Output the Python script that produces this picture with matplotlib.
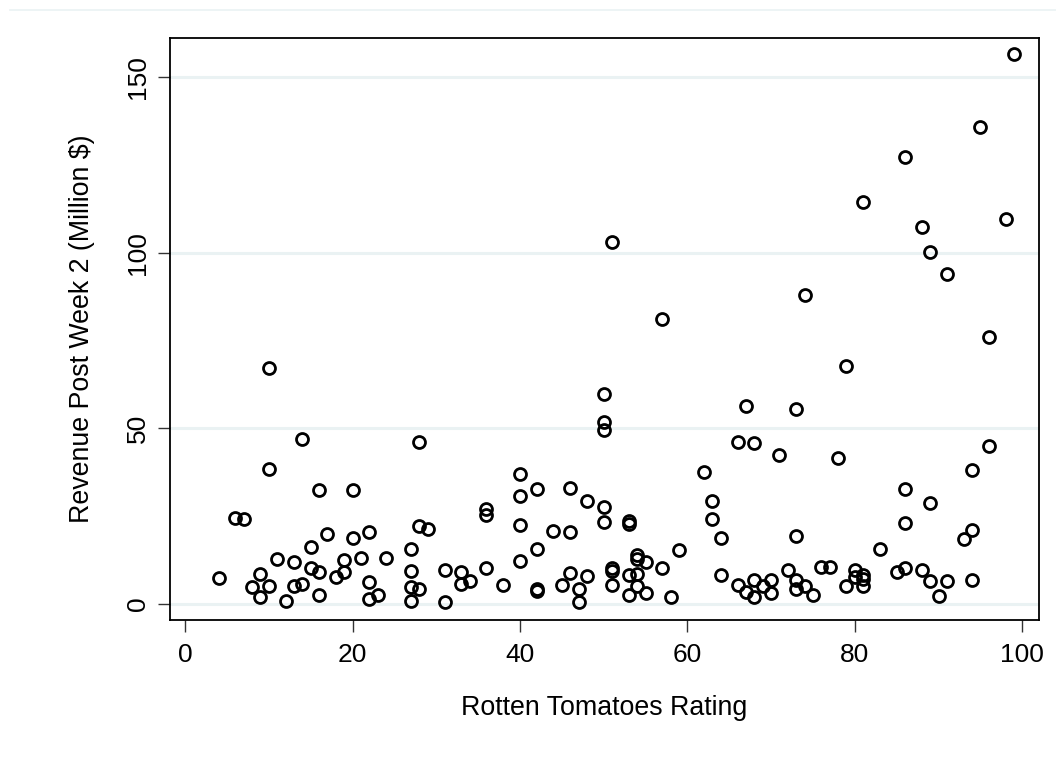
import numpy as np
import matplotlib
matplotlib.use("Agg")
import matplotlib.pyplot as plt
from matplotlib.lines import Line2D

plt.rcParams['font.family'] = ['Liberation Sans', 'DejaVu Sans']

# Rotten Tomatoes rating vs revenue after week 2 (million $)
rating = [4, 6, 7, 8, 9, 9, 10, 10, 10, 11, 12, 13, 13, 14, 14, 15, 15,
          16, 16, 16, 17, 18, 19, 19, 20, 20, 21, 22, 22, 22, 23, 24,
          27, 27, 27, 27, 28, 28, 28, 29, 31, 31, 33, 33, 34,
          36, 36, 36, 38, 40, 40, 40, 40, 42, 42, 42, 42, 44, 45,
          46, 46, 46, 47, 47, 48, 48, 50, 50, 50, 50, 50,
          51, 51, 51, 51, 53, 53, 53, 53, 54, 54, 54, 54, 55, 55,
          57, 57, 58, 59, 62, 63, 63, 64, 64, 66, 66, 67, 67,
          68, 68, 68, 69, 70, 70, 71, 72, 73, 73, 73, 73, 74, 74, 75,
          76, 77, 78, 79, 79, 80, 80, 81, 81, 81, 81, 83, 85,
          86, 86, 86, 86, 88, 88, 89, 89, 89, 90, 91, 91, 93,
          94, 94, 94, 95, 96, 96, 98, 99]
revenue = [7.4, 24.5, 24.3, 4.9, 8.5, 1.9, 67.2, 38.5, 5.0, 12.7, 0.9, 11.8, 5.0, 47.0, 5.7, 16.3, 10.2,
           32.3, 9.1, 2.5, 19.8, 7.6, 12.6, 9.1, 32.3, 18.8, 13.0, 20.5, 6.1, 1.5, 2.5, 13.0,
           15.7, 9.5, 4.7, 0.9, 46.2, 22.1, 4.2, 21.4, 9.7, 0.4, 9.0, 5.7, 6.4,
           27.0, 25.2, 10.2, 5.4, 37.1, 30.8, 22.4, 12.2, 32.7, 15.7, 4.1, 3.8, 20.7, 5.4,
           32.9, 20.6, 8.8, 4.3, 0.4, 29.2, 7.8, 59.8, 51.8, 49.4, 27.5, 23.4,
           103.2, 10.2, 9.5, 5.4, 23.6, 22.7, 8.1, 2.4, 13.9, 12.8, 8.6, 5.0, 12.0, 3.1,
           81.2, 10.2, 2.0, 15.2, 37.7, 29.4, 24.2, 18.8, 8.3, 46.0, 5.4, 56.5, 3.5,
           45.7, 6.9, 1.9, 5.2, 6.9, 3.1, 42.5, 9.6, 55.4, 19.4, 6.7, 4.3, 88.1, 5.0, 2.4,
           10.5, 10.4, 41.6, 67.7, 5.0, 9.7, 7.6, 114.4, 8.3, 7.1, 5.0, 15.5, 9.1,
           127.2, 32.7, 23.1, 10.2, 107.3, 9.7, 100.2, 28.7, 6.4, 2.1, 93.9, 6.4, 18.5,
           38.0, 20.9, 6.9, 135.8, 75.9, 45.1, 109.5, 156.6]

xticks = [0, 20, 40, 60, 80, 100]
yticks = [0, 50, 100, 150]

fig = plt.figure(figsize=(10.56, 7.72), dpi=100)
ax = fig.add_axes([170/1056, 1 - 620/772, 869/1056, 582/772])

for yv in yticks:
    ax.axhline(yv, color='#eaf2f3', lw=2.2, zorder=0)

ax.plot(rating, revenue, 'o', mfc='none', mec='black', ms=8.6, mew=2.0, ls='none')

ax.set_xlim(-1.8, 102.0)
ax.set_ylim(-4.6, 161.2)
ax.set_xticks(xticks)
ax.set_yticks(yticks)
ax.set_yticklabels([str(v) for v in yticks], rotation=90, va='center')
ax.tick_params(axis='both', direction='out', length=8.6, width=1.0,
               color='#333333', labelsize=19)
ax.tick_params(axis='x', pad=8)
ax.tick_params(axis='y', pad=6)

for s in ax.spines.values():
    s.set_linewidth(1.3)

ax.set_xlabel('Rotten Tomatoes Rating', fontsize=19.3, labelpad=20)
ax.set_ylabel('Revenue Post Week 2 (Million $)', fontsize=19.3, labelpad=22)

# faint outer border of the graph region
fig.add_artist(Line2D([10/1056, 1], [1 - 10/772, 1 - 10/772], color='#eaf2f3', lw=1.2))

fig.savefig('out.png', dpi=100)
